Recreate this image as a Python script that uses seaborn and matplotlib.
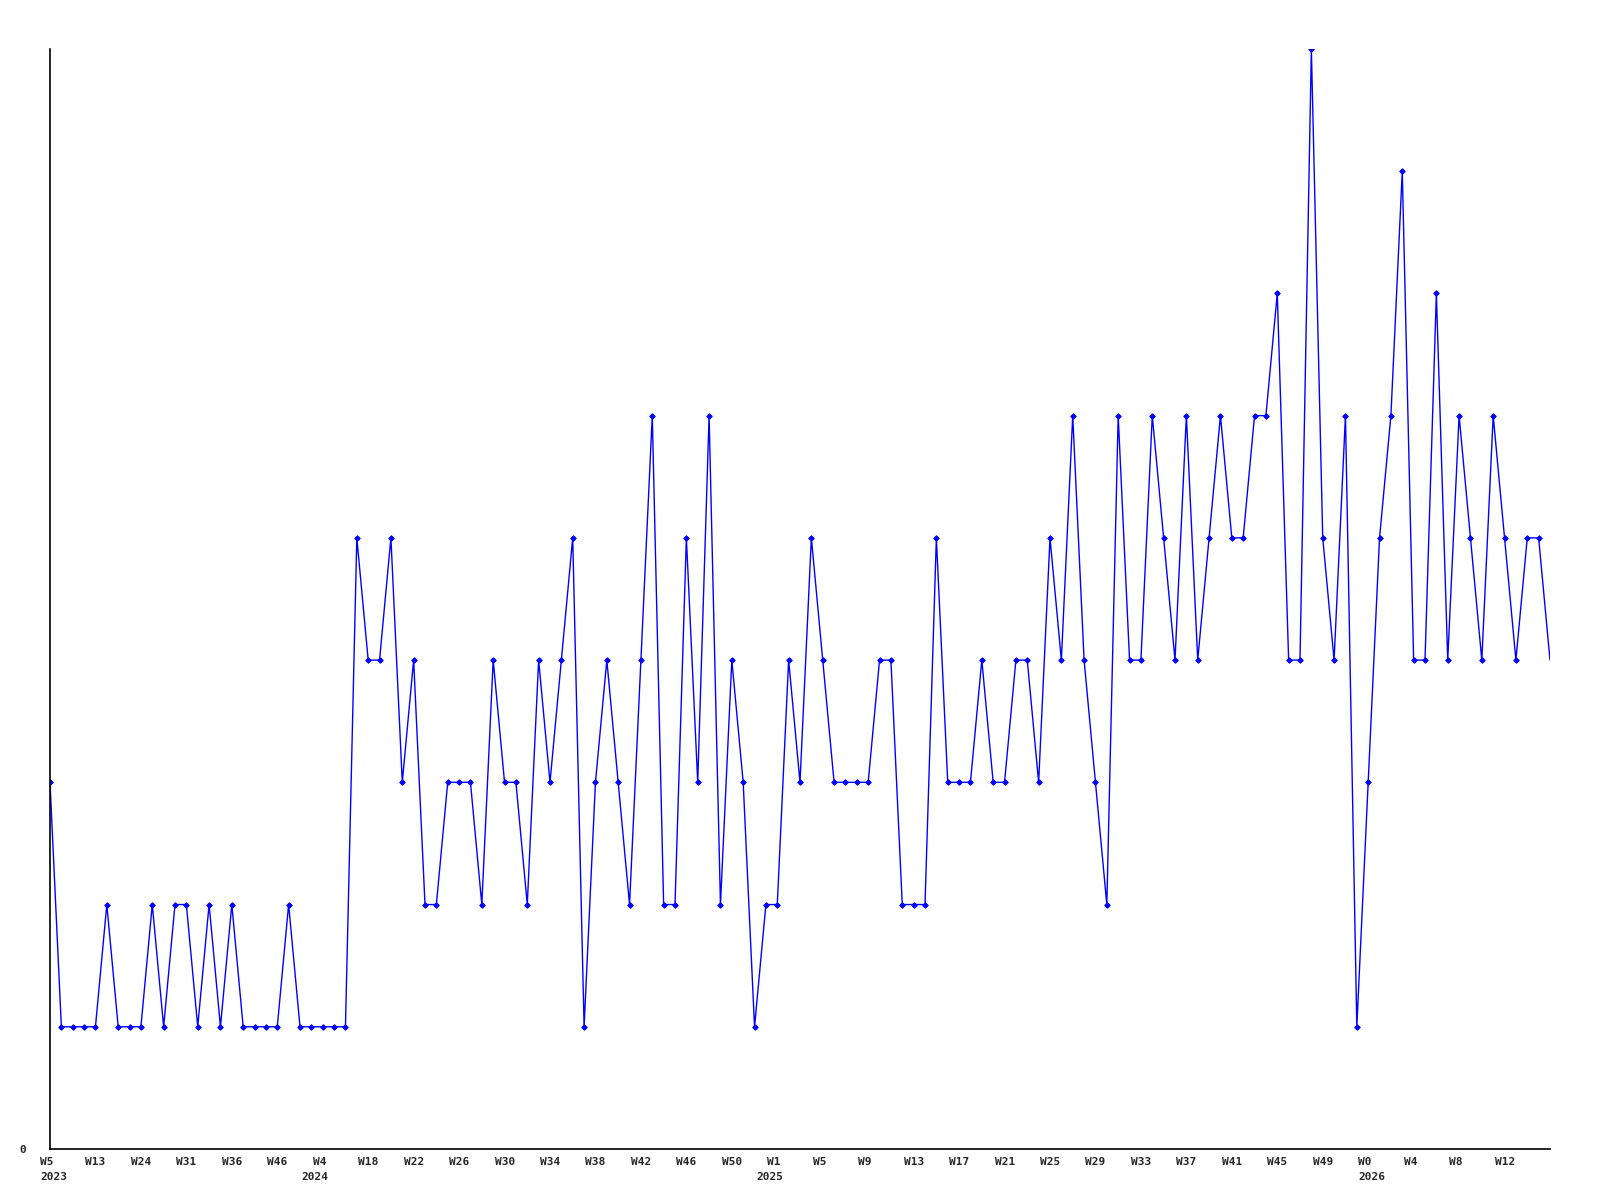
import matplotlib
matplotlib.use("Agg")
import matplotlib.pyplot as plt
import matplotlib.transforms as mtransforms
import seaborn as sns
import pandas as pd
import numpy as np

# ---- data ----
values = [
    3, 1, 1, 1, 1, 2, 1, 1, 1, 2, 1, 2, 2, 1, 2, 1, 2, 1, 1, 1, 1, 2, 1, 1, 1, 1, 1,
    5, 4, 4, 5, 3, 4, 2, 2, 3,
    3, 3, 2, 4, 3, 3, 2, 4, 3, 4, 5, 1, 3, 4, 3, 2, 4, 6, 2, 2, 5, 3, 6, 2, 4, 3, 1,
    2, 2, 4, 3, 5,
    4, 3, 3, 3, 3, 4, 4, 2, 2, 2, 5, 3, 3, 3, 4, 3, 3, 4, 4, 3, 5, 4, 6, 4, 3, 2, 6,
    4, 4, 6, 5, 4,
    6, 4, 5, 6, 5, 5, 6, 6, 7, 4, 4, 9, 5, 4, 6, 1, 3, 5, 6, 8, 4, 4, 7, 4, 6, 5, 4,
    6, 5, 4, 5, 5, 4,
]
week_labels = [
    "W5", "W13", "W24", "W31", "W36", "W46", "W4", "W18", "W22", "W26", "W30",
    "W34", "W38", "W42", "W46", "W50", "W1", "W5", "W9", "W13", "W17", "W21",
    "W25", "W29", "W33", "W37", "W41", "W45", "W49", "W0", "W4", "W8", "W12",
]
year_labels = ["2023", "2024", "2025", "2026"]
year_label_at = [0, 6, 16, 29]          # index into week_labels
year_px_shift = [0, -11, -11, 0]         # extra left shift of year text (px)
label_step = 4

df = pd.DataFrame({"idx": np.arange(len(values)), "value": values})

sns.set_style("white")
fig = plt.figure(figsize=(16, 12), dpi=100)
ax = fig.add_axes([0.03125, 0.0425, 0.9375, 0.9167])

sns.lineplot(data=df, x="idx", y="value", ax=ax, color="#0000ff",
             linewidth=1.0, marker="D", markersize=2.8,
             markeredgecolor="#0000ff", markerfacecolor="#0000ff",
             markevery=list(range(len(values) - 1)))

ax.set_xlim(0, len(values) - 1)
ax.set_ylim(0, max(values))
ax.set_xlabel("")
ax.set_ylabel("")

for s in ["top", "right"]:
    ax.spines[s].set_visible(False)
for s in ["left", "bottom"]:
    ax.spines[s].set_color("black")
    ax.spines[s].set_linewidth(1.2)

font = dict(family="DejaVu Sans Mono", weight="bold", size=8)

ticks = np.arange(len(week_labels)) * label_step
ax.set_xticks(ticks)
ax.set_xticklabels(week_labels, fontdict=font, ha="left")
ax.tick_params(axis="x", length=0, pad=6)
shift = mtransforms.ScaledTranslation(-10 / 100, 0, fig.dpi_scale_trans)
for lab in ax.get_xticklabels():
    lab.set_transform(lab.get_transform() + shift)

ax.set_yticks([0])
ax.set_yticklabels(["0"], fontdict=font)
ax.tick_params(axis="y", length=0, pad=17)

base = mtransforms.blended_transform_factory(ax.transData, ax.transAxes)
for lab, at, px in zip(year_labels, year_label_at, year_px_shift):
    tr = base + mtransforms.ScaledTranslation((-10 + px) / 100, -28 / 100,
                                              fig.dpi_scale_trans)
    ax.text(ticks[at], 0, lab, transform=tr, ha="left", va="center", **font)

fig.savefig("out.png", dpi=100, facecolor="white")
